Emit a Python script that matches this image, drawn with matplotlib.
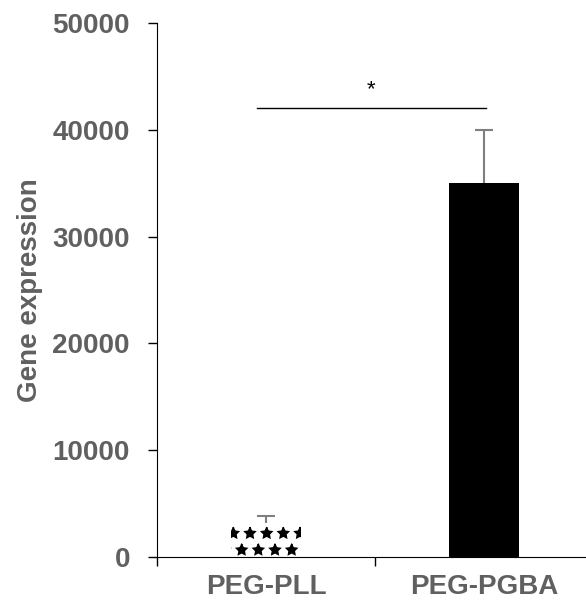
import matplotlib.pyplot as plt
import numpy as np

groups = ["PEG-PLL", "PEG-PGBA"]
expression = [3200, 35000]
err = [650, 5000]
yticks = [0, 10000, 20000, 30000, 40000, 50000]

plt.rcParams['font.family'] = ['Liberation Sans', 'DejaVu Sans']
plt.rcParams['hatch.linewidth'] = 1.0

fig = plt.figure(figsize=(5.86, 6.07), dpi=100)
ax = fig.add_axes([157 / 586, 50 / 607, 436 / 586, 534 / 607])

x = np.arange(len(groups)) + 0.5
bars = ax.bar(x, expression, width=0.32, color=['white', 'black'],
              edgecolor='black', linewidth=0, zorder=2)
bars[0].set_hatch('*')

# upper error bars only, cap on top
top = np.array(expression) + np.array(err)
ax.vlines(x, expression, top, color='#7f7f7f', lw=1.5, zorder=3)
ax.plot(x, top, ls='none', marker='_', markersize=13, mew=1.5,
        color='#7f7f7f', zorder=3)

# significance bracket
ax.plot([0.46, 1.51], [42000, 42000], color='black', lw=1)
ax.text(0.98, 43800, '*', ha='center', va='center', fontsize=16)

ax.set_xlim(0, 2)
ax.set_ylim(0, 50000)
ax.set_yticks(yticks)
ax.set_xticks([0, 1, 2])
ax.set_xticklabels([])
ax.set_xticks(x, minor=True)
ax.set_xticklabels(groups, minor=True)

grey = '#606060'
ax.tick_params(axis='y', length=6.5, width=1, pad=13, labelsize=20,
               labelcolor=grey)
ax.tick_params(axis='x', which='major', length=6.5, width=1)
ax.tick_params(axis='x', which='minor', length=0, pad=12, labelsize=20,
               labelcolor=grey)
for lab in ax.get_yticklabels() + ax.get_xticklabels(minor=True):
    lab.set_fontweight('bold')

ax.set_ylabel('Gene expression', fontsize=20, fontweight='bold', color=grey,
              labelpad=7)
ax.spines['top'].set_visible(False)
ax.spines['right'].set_visible(False)

fig.savefig('out.png', dpi=100)
